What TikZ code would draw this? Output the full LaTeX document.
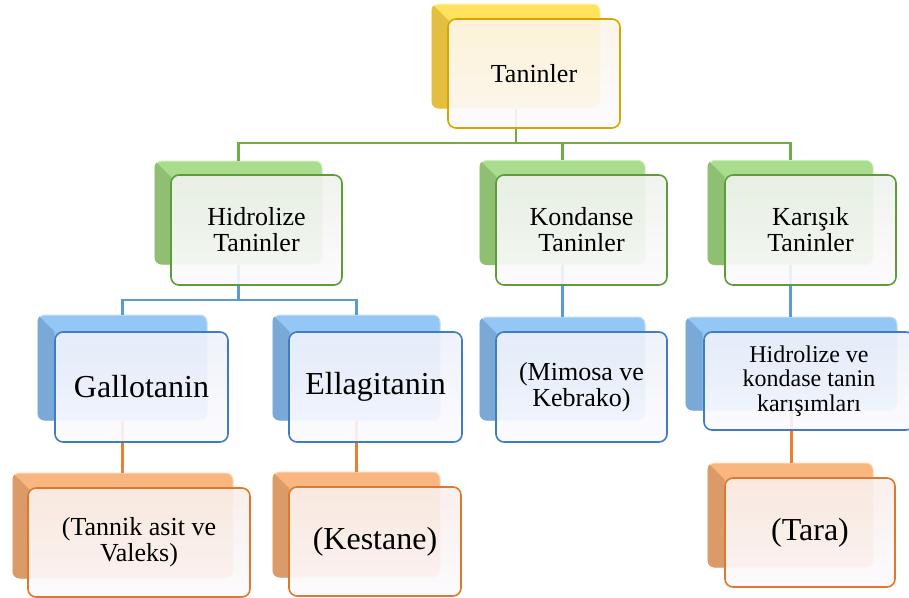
\documentclass[tikz,border=0pt]{standalone}
\usepackage{fontspec}
\setmainfont{LiberationSerif}[Extension=.ttf, UprightFont=*-Regular, BoldFont=*-Bold]
\definecolor{yB}{HTML}{FFE25E}\definecolor{yL}{HTML}{E4BE40}\definecolor{yE}{HTML}{FFEFA8}
\definecolor{yD}{HTML}{D6A600}\definecolor{yF}{HTML}{FCF4E6}
\definecolor{gB}{HTML}{A9DC8D}\definecolor{gL}{HTML}{8EBF72}\definecolor{gE}{HTML}{CDEBBB}
\definecolor{gD}{HTML}{5E9C3B}\definecolor{gF}{HTML}{EFF2EC}\definecolor{gC}{HTML}{70AD47}
\definecolor{bB}{HTML}{94C6F6}\definecolor{bL}{HTML}{7AA9D8}\definecolor{bE}{HTML}{C4DEF9}
\definecolor{bD}{HTML}{3F7CC4}\definecolor{bF}{HTML}{EDF1FA}\definecolor{bC}{HTML}{5B9BD5}
\definecolor{oB}{HTML}{F9B77F}\definecolor{oL}{HTML}{DA9B68}\definecolor{oE}{HTML}{FCD6B6}
\definecolor{oD}{HTML}{E0782C}\definecolor{oF}{HTML}{F9EEEA}\definecolor{oC}{HTML}{ED7D31}
\definecolor{fW}{HTML}{FCFAFE}
\tikzset{
  backbox/.style={rectangle, rounded corners=7pt, inner sep=0pt, line width=1pt},
  frontbox/.style={rectangle, rounded corners=8pt, inner sep=2pt, line width=1.6pt, align=center,
     fill opacity=0.9, text opacity=1, bottom color=fW},
  bY/.style={backbox, fill=yB, draw=yE},
  bG/.style={backbox, fill=gB, draw=gE},
  bBl/.style={backbox, fill=bB, draw=bE},
  bO/.style={backbox, fill=oB, draw=oE},
  fY/.style={frontbox, draw=yD, top color=yF},
  fG/.style={frontbox, draw=gD, top color=gF},
  fBl/.style={frontbox, draw=bD, top color=bF},
  fO/.style={frontbox, draw=oD, top color=oF},
  gline/.style={draw=gC, line width=2.4pt},
  bline/.style={draw=bC, line width=2.8pt},
  oline/.style={draw=oC, line width=2.8pt},
  big/.style={font=\fontsize{32}{33}\selectfont},
  mid/.style={font=\fontsize{26}{26}\selectfont},
  sml/.style={font=\fontsize{24}{24.5}\selectfont},
}
\newcommand{\bevel}[2]{%
  \begin{scope}
    \clip[rounded corners=7pt] (#1.north west) rectangle (#1.south east);
    \fill[#2] (#1.north west) -- ++(17,17) -- ($(#1.south west)+(17,0)$) -- (#1.south west) -- cycle;
  \end{scope}}
\usetikzlibrary{calc}
\begin{document}
\begin{tikzpicture}[x=1pt,y=-1pt]
\useasboundingbox (0,0) rectangle (909,597);
% back boxes
\node[bY, minimum width=168pt, minimum height=104pt] (tb) at (516,56) {};
\node[bG, minimum width=167pt, minimum height=103pt] (hb) at (238.5,212.5) {};
\node[bG, minimum width=165pt, minimum height=104pt] (kb) at (562.5,212.5) {};
\node[bG, minimum width=165pt, minimum height=104pt] (rb) at (790.5,212.5) {};
\node[bBl, minimum width=169pt, minimum height=105pt] (gb) at (122.5,367.5) {};
\node[bBl, minimum width=167pt, minimum height=105pt] (eb) at (356.5,367.5) {};
\node[bBl, minimum width=165pt, minimum height=103pt] (mb) at (562.5,368.5) {};
\node[bBl, minimum width=211pt, minimum height=93pt] (xb) at (791.5,363.5) {};
\node[bO, minimum width=220pt, minimum height=105pt] (tab) at (123,525.5) {};
\node[bO, minimum width=167pt, minimum height=105pt] (keb) at (356.5,524.5) {};
\node[bO, minimum width=165pt, minimum height=104pt] (trb) at (790.5,515) {};
\bevel{tb}{yL}
\bevel{hb}{gL}\bevel{kb}{gL}\bevel{rb}{gL}
\bevel{gb}{bL}\bevel{eb}{bL}\bevel{mb}{bL}\bevel{xb}{bL}
\bevel{tab}{oL}\bevel{keb}{oL}\bevel{trb}{oL}
% connectors
\coordinate (busg) at (0,143);
\coordinate (busb) at (0,300);
\draw[gline] (tb.south) -- (tb.south |- busg);
\draw[gline] (hb.north) -- (hb.north |- busg) -- (rb.north |- busg) -- (rb.north);
\draw[gline] (kb.north) -- (kb.north |- busg);
\draw[bline] (hb.south) -- (hb.south |- busb);
\draw[bline] (gb.north) -- (gb.north |- busb) -- (eb.north |- busb) -- (eb.north);
\draw[bline] (kb.south) -- (kb.south |- mb.north);
\draw[bline] (rb.south) -- (rb.south |- xb.north);
\draw[oline] (gb.south) -- (gb.south |- tab.north);
\draw[oline] (eb.south) -- (eb.south |- keb.north);
\draw[oline] (xb.south) -- (xb.south |- trb.north);
% front boxes
\node[fY, mid, minimum width=172pt, minimum height=109pt] (t) at (534,73.5) {Taninler};
\node[fG, mid, minimum width=171pt, minimum height=110pt] (h) at (256.5,230) {Hidrolize\\Taninler};
\node[fG, mid, minimum width=171pt, minimum height=110pt] (k) at (581.5,230) {Kondanse\\Taninler};
\node[fG, mid, minimum width=171pt, minimum height=110pt] (r) at (810.5,230) {Karışık\\Taninler};
\node[fBl, big, minimum width=173pt, minimum height=110pt] (g) at (141.5,387) {Gallotanin};
\node[fBl, big, minimum width=173pt, minimum height=110pt] (e) at (375.5,387) {Ellagitanin};
\node[fBl, mid, minimum width=171pt, minimum height=110pt] (m) at (581.5,387) {(Mimosa ve\\Kebrako)};
\node[fBl, sml, minimum width=210pt, minimum height=98pt] (x) at (809,381) {Hidrolize ve\\kondase tanin\\karışımları};
\node[fO, mid, minimum width=222pt, minimum height=109pt] (ta) at (139,542.5) {(Tannik asit ve\\Valeks)};
\node[fO, big, minimum width=172pt, minimum height=109pt] (ke) at (375,541.5) {(Kestane)};
\node[fO, big, minimum width=170pt, minimum height=109pt] (tr) at (810,532.5) {(Tara)};
\end{tikzpicture}
\end{document}
